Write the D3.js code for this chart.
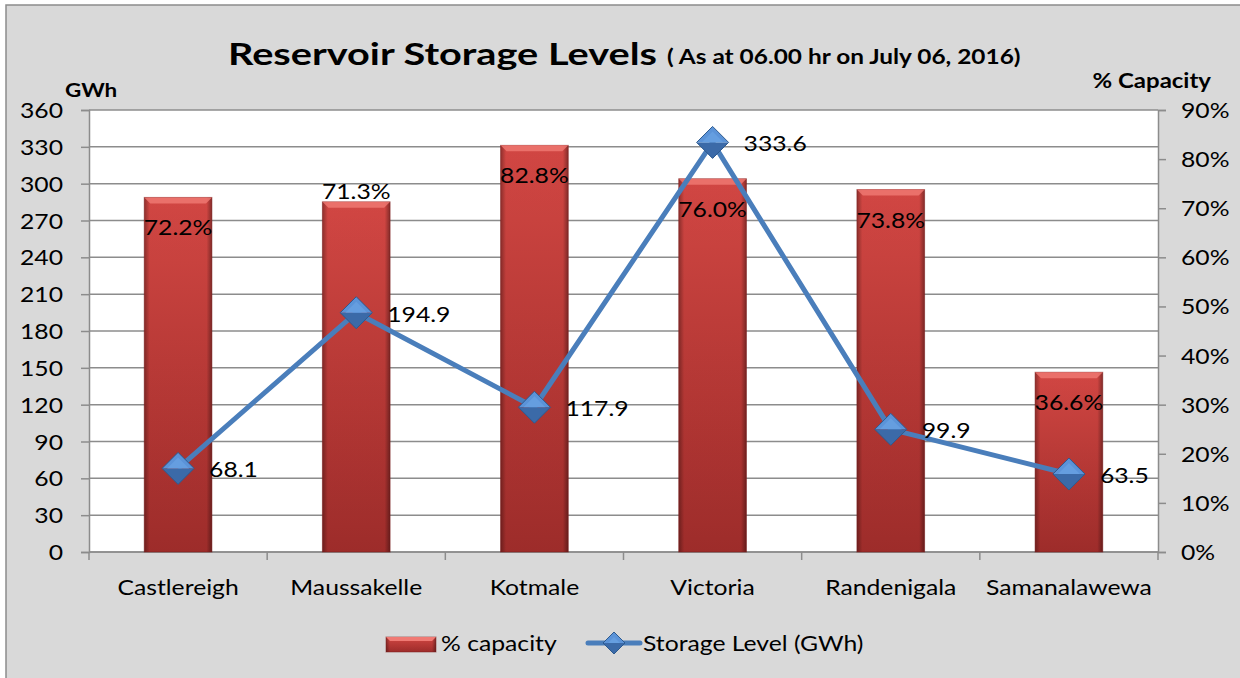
<!DOCTYPE html>
<html>
<head>
<meta charset="utf-8">
<script src="https://cdn.jsdelivr.net/npm/d3@7"></script>
<style>
  body { margin: 0; background: #fff; }
  svg { display: block; font-family: Lato, "Open Sans", sans-serif; }
</style>
</head>
<body>
<div id="chart"></div>
<script>
const reservoirs = ['Castlereigh', 'Maussakelle', 'Kotmale', 'Victoria', 'Randenigala', 'Samanalawewa'];
const capacityPct = [72.2, 71.3, 82.8, 76.0, 73.8, 36.6];
const storageGWh = [68.1, 194.9, 117.9, 333.6, 99.9, 63.5];
const leftTicks = [0, 30, 60, 90, 120, 150, 180, 210, 240, 270, 300, 330, 360];
const rightTicks = [0, 10, 20, 30, 40, 50, 60, 70, 80, 90];

// where each % label sits in the original: inside the bar top or just above it
const pctLabelPos = ['inside', 'above', 'inside', 'inside', 'inside', 'inside'];

const w = 1240, h = 678;
const m = { left: 89, right: 1158, top: 110, bottom: 552 };
const FS = 21.5, SX = 1.15; // the original is stretched sideways a bit

const svg = d3.select('#chart').append('svg')
  .attr('width', w)
  .attr('height', h);

// text helper with a horizontal stretch
const txt = (g, x, y, s, o = {}) => g.append('text')
  .attr('transform', `translate(${x},${y}) scale(${o.sx || SX},1)`)
  .attr('text-anchor', o.anchor || 'start')
  .attr('font-size', o.size || FS)
  .attr('font-weight', o.weight || 'normal')
  .attr('fill', '#000')
  .text(s);

const defs = svg.append('defs');

const gBody = defs.append('linearGradient').attr('id', 'barBody').attr('x1', 0).attr('y1', 0).attr('x2', 0).attr('y2', 1);
gBody.append('stop').attr('offset', '0%').attr('stop-color', '#dc4a46');
gBody.append('stop').attr('offset', '100%').attr('stop-color', '#a52e2c');

const gEdge = defs.append('linearGradient').attr('id', 'barEdge').attr('x1', 0).attr('y1', 0).attr('x2', 1).attr('y2', 0);
gEdge.append('stop').attr('offset', '0%').attr('stop-color', '#000').attr('stop-opacity', 0.35);
gEdge.append('stop').attr('offset', '8%').attr('stop-color', '#000').attr('stop-opacity', 0.05);
gEdge.append('stop').attr('offset', '92%').attr('stop-color', '#000').attr('stop-opacity', 0.05);
gEdge.append('stop').attr('offset', '100%').attr('stop-color', '#000').attr('stop-opacity', 0.4);

// chart background + border
svg.append('rect')
  .attr('x', 6).attr('y', 5)
  .attr('width', w + 10).attr('height', h + 10)
  .attr('fill', '#d9d9d9')
  .attr('stroke', '#8c8c8c')
  .attr('stroke-width', 1.5);

const x = d3.scaleBand()
  .domain(reservoirs)
  .range([m.left, m.right])
  .paddingInner(0.62)
  .paddingOuter(0.31);

const yL = d3.scaleLinear().domain([0, 360]).range([m.bottom, m.top]);
const yR = d3.scaleLinear().domain([0, 90]).range([m.bottom, m.top]);

// plot area
svg.append('rect')
  .attr('x', m.left).attr('y', m.top)
  .attr('width', m.right - m.left).attr('height', m.bottom - m.top)
  .attr('fill', '#fff');

// gridlines
svg.append('g')
  .selectAll('line')
  .data(leftTicks)
  .join('line')
  .attr('x1', m.left).attr('x2', m.right)
  .attr('y1', d => yL(d)).attr('y2', d => yL(d))
  .attr('stroke', '#8c8c8c')
  .attr('stroke-width', 1.5);

// axes (lines from d3, labels drawn with the stretch helper)
const leftAxis = d3.axisLeft(yL).tickValues(leftTicks).tickSize(8).tickFormat('');
const rightAxis = d3.axisRight(yR).tickValues(rightTicks).tickSize(8).tickFormat('');

const gl = svg.append('g').attr('transform', `translate(${m.left},0)`).call(leftAxis);
const gr = svg.append('g').attr('transform', `translate(${m.right},0)`).call(rightAxis);

[gl, gr].forEach(g => {
  g.select('.domain').attr('stroke', '#8c8c8c').attr('stroke-width', 1.5);
  g.selectAll('.tick line').attr('stroke', '#8c8c8c').attr('stroke-width', 1.5);
});
leftTicks.forEach(t => txt(svg, 63, yL(t) + 8, t, { anchor: 'end' }));
rightTicks.forEach(t => txt(svg, 1181, yR(t) + 8, t + '%'));

// x axis baseline and boundary ticks
const step = x.step();
const xg = svg.append('g');
xg.append('line')
  .attr('x1', m.left).attr('x2', m.right)
  .attr('y1', m.bottom).attr('y2', m.bottom)
  .attr('stroke', '#8c8c8c').attr('stroke-width', 1.5);
xg.selectAll('line.tk')
  .data(d3.range(reservoirs.length + 1))
  .join('line')
  .attr('class', 'tk')
  .attr('x1', i => m.left + i * step).attr('x2', i => m.left + i * step)
  .attr('y1', m.bottom).attr('y2', m.bottom + 8)
  .attr('stroke', '#8c8c8c').attr('stroke-width', 1.5);
reservoirs.forEach(r => txt(xg, x(r) + x.bandwidth() / 2, 595, r, { anchor: 'middle' }));

// bars
const data = reservoirs.map((r, i) => ({ r, pct: capacityPct[i], gwh: storageGWh[i], i }));
const bars = svg.append('g').selectAll('g').data(data).join('g');
bars.append('rect')
  .attr('x', d => x(d.r)).attr('y', d => yR(d.pct))
  .attr('width', x.bandwidth()).attr('height', d => m.bottom - yR(d.pct))
  .attr('fill', 'url(#barBody)');
bars.append('rect')
  .attr('x', d => x(d.r)).attr('y', d => yR(d.pct))
  .attr('width', x.bandwidth()).attr('height', d => m.bottom - yR(d.pct))
  .attr('fill', 'url(#barEdge)')
  .attr('stroke', '#7a1e1e').attr('stroke-opacity', 0.5).attr('stroke-width', 1);
// top bevel
bars.append('path')
  .attr('d', d => {
    const x0 = x(d.r), x1 = x0 + x.bandwidth(), y0 = yR(d.pct), b = 6;
    return `M${x0},${y0}L${x1},${y0}L${x1 - b},${y0 + b}L${x0 + b},${y0 + b}Z`;
  })
  .attr('fill', '#f07a74').attr('opacity', 0.8);

const pctLabels = svg.append('g');
data.forEach(d => {
  const y = pctLabelPos[d.i] === 'above' ? yR(d.pct) - 3 : yR(d.pct) + 38;
  txt(pctLabels, x(d.r) + x.bandwidth() / 2, y, d.pct.toFixed(1) + '%', { anchor: 'middle' });
});

// storage line
const cx = d => x(d.r) + x.bandwidth() / 2;
svg.append('path')
  .datum(data)
  .attr('fill', 'none')
  .attr('stroke', '#4a7ebb')
  .attr('stroke-width', 5)
  .attr('stroke-linejoin', 'round')
  .attr('d', d3.line().x(cx).y(d => yL(d.gwh)));

const diamond = (g, s) => {
  g.append('path').attr('d', `M0,${-s}L${s},0L${-s},0Z`).attr('fill', '#5b93d8');
  g.append('path').attr('d', `M${-s},0L${s},0L0,${s}Z`).attr('fill', '#3b6aa8');
  g.append('path').attr('d', `M0,${-s}L${s},0L0,${s}L${-s},0Z`)
    .attr('fill', 'none').attr('stroke', '#2d5a8f').attr('stroke-width', 1);
  g.append('path').attr('d', `M0,${-s + 5}L${s - 5},0L${-s + 5},0Z`).attr('fill', '#6aa2e4').attr('opacity', 0.7);
};

const marks = svg.append('g').selectAll('g').data(data).join('g')
  .attr('transform', d => `translate(${cx(d)},${yL(d.gwh)})`);
marks.each(function () { diamond(d3.select(this), 16); });

const gwhLabels = svg.append('g');
data.forEach(d => txt(gwhLabels, cx(d) + 31, yL(d.gwh) + 9, d.gwh.toFixed(1)));

// titles
txt(svg, 228, 65, 'Reservoir Storage Levels', { size: 31, sx: 1.28, weight: 'bold' });
txt(svg, 667, 64, '( As at 06.00 hr on July 06, 2016)', { size: 20, sx: 1.22, weight: 'bold' });
txt(svg, 65, 97, 'GWh', { size: 19, sx: 1.18, weight: 'bold' });
txt(svg, 1211, 88, '% Capacity', { size: 20.5, sx: 1.17, weight: 'bold', anchor: 'end' });

// legend
const lg = svg.append('g');
lg.append('rect').attr('x', 386).attr('y', 637).attr('width', 50).attr('height', 15).attr('fill', 'url(#barBody)');
lg.append('rect').attr('x', 386).attr('y', 637).attr('width', 50).attr('height', 15).attr('fill', 'url(#barEdge)')
  .attr('stroke', '#7a1e1e').attr('stroke-opacity', 0.5);
lg.append('path').attr('d', 'M386,637L436,637L432,641L390,641Z').attr('fill', '#f07a74');
txt(lg, 441, 651, '% capacity');
lg.append('line').attr('x1', 588).attr('x2', 640).attr('y1', 643).attr('y2', 643)
  .attr('stroke', '#4a7ebb').attr('stroke-width', 5).attr('stroke-linecap', 'round');
const ld = lg.append('g').attr('transform', 'translate(614,643)');
diamond(ld, 11);
txt(lg, 643, 651, 'Storage Level (GWh)');
</script>
</body>
</html>
